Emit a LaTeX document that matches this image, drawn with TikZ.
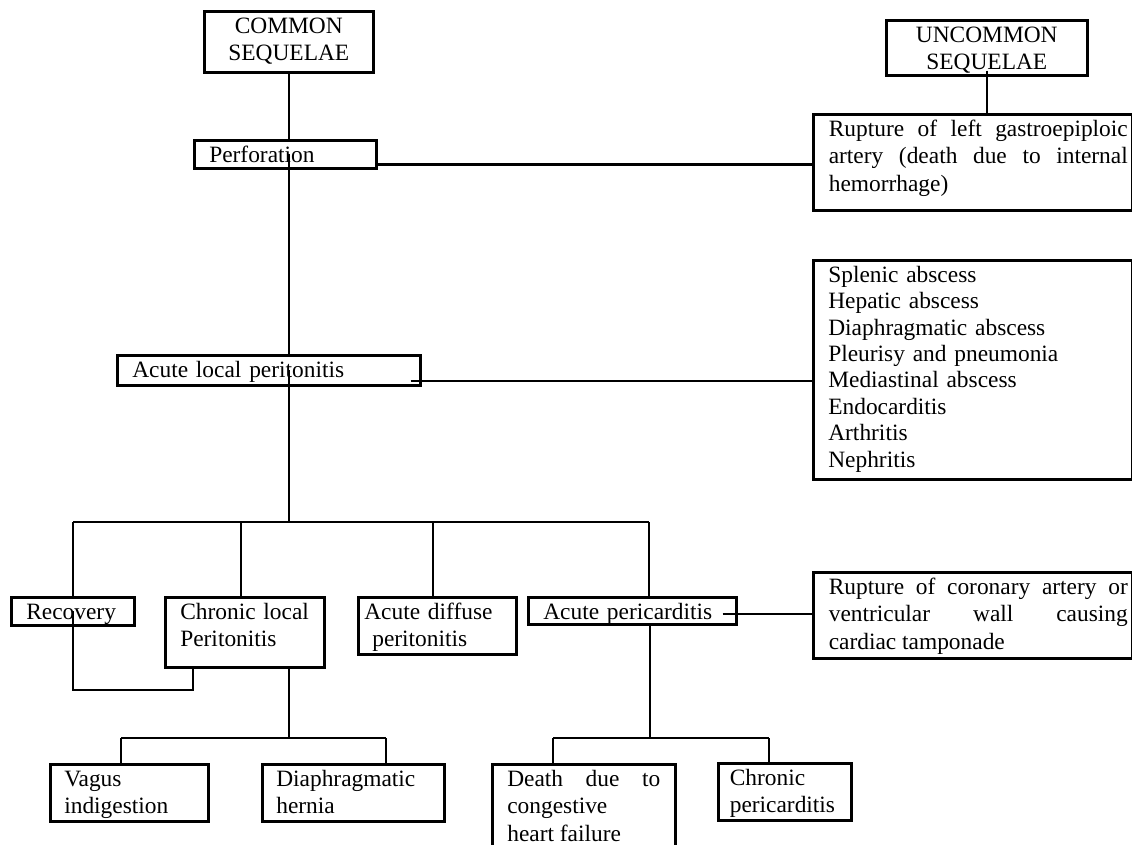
\documentclass[tikz,border=0pt]{standalone}
\usepackage{fontspec}
\setmainfont{Liberation Serif}
\tikzset{
  box/.style={draw, line width=2.6pt, anchor=north west, inner ysep=5pt,
    text height=17pt, align=left},
  link/.style={line width=2.2pt},
}
\begin{document}
\begin{tikzpicture}[x=1pt, y=-1pt, font=\fontsize{23.4}{27.5}\selectfont]
\useasboundingbox (0,0) rectangle (1132,845);

% top of the chart
\node[box, align=center, inner xsep=5pt, text width=159pt, text depth=34pt] (common) at (203,10) {COMMON\\SEQUELAE};
\node[box, align=center, inner xsep=5pt, text width=191pt, text depth=28pt] (uncommon) at (885,19) {UNCOMMON\\SEQUELAE};
\node[box, inner xsep=15pt, text width=152pt, text depth=1pt] (perf) at (193,139) {Perforation};
\node[box, align=justify, inner xsep=4.5pt, text width=310pt, text depth=69pt] (gastro) at (812,113)
  {\hspace*{11pt}Rupture of left gastroepiploic\linebreak\hspace*{11pt}artery (death due to internal\linebreak\hspace*{11pt}hemorrhage)};
\node[box, inner xsep=15pt, text width=273pt, text depth=3pt] (acute) at (116,354) {Acute local peritonitis};
\node[box, inner xsep=15pt, text width=289pt, text depth=192pt, font=\fontsize{23.4}{26.4}\selectfont] (splenic) at (812,259)
  {Splenic abscess\\Hepatic abscess\\Diaphragmatic abscess\\Pleurisy and pneumonia\\Mediastinal abscess\\Endocarditis\\Arthritis\\Nephritis};

% second level
\node[box, inner xsep=15pt, text width=93pt, text depth=1pt] (rec) at (10,596) {Recovery};
\node[box, inner xsep=15pt, text width=129pt, text depth=43pt] (chronic) at (164,596) {Chronic local\\Peritonitis};
\node[box, inner xsep=6pt, text width=146pt, text depth=30pt] (diffuse) at (357,596) {Acute diffuse\\\hspace*{8pt}peritonitis};
\node[box, inner xsep=15pt, text width=178pt, text depth=0pt] (peri) at (527,596) {Acute pericarditis};
\node[box, align=justify, inner xsep=4.5pt, text width=310pt, text depth=59pt] (coronary) at (812,571)
  {\hspace*{11pt}Rupture of coronary artery or\linebreak\hspace*{11pt}ventricular wall causing\linebreak\hspace*{11pt}cardiac tamponade};

% bottom level
\node[box, inner xsep=14pt, text width=130pt, text depth=30pt] (vagus) at (49,763) {Vagus\\indigestion};
\node[box, inner xsep=14pt, text width=154pt, text depth=30pt] (hernia) at (261,763) {Diaphragmatic\\hernia};
\node[box, align=justify, inner xsep=15pt, text width=153pt, text depth=73pt] (death) at (491,763) {Death due to\linebreak congestive\newline heart failure};
\node[box, inner xsep=11.5pt, text width=110pt, text depth=30pt] (chronicperi) at (717,762) {Chronic\\pericarditis};

% main spine
\coordinate (hub) at (289,522);
\draw[link] (common.south -| hub) -- (perf.north -| hub);
\draw[link] (perf.center -| hub) -- (acute.north -| hub);
\draw[link] (acute.center -| hub) -- (hub);

% side branches
\draw[link] (uncommon.south) ++(0,-6) -- (uncommon.south |- gastro.north);
\draw[link] (perf.south east) ++(0,-5) coordinate (pg) -- (pg -| gastro.west);
\draw[link] (acute.south east) ++(-11,-6) coordinate (as) -- (as -| splenic.west);
\draw[link] (peri.south east) ++(-15,-12) coordinate (pc) -- (pc -| coronary.west);

% four outcomes
\coordinate (b1) at (73,522);
\coordinate (b2) at (241,522);
\coordinate (b3) at (433,522);
\coordinate (b4) at (649,522);
\draw[link] (b1) -- (b4);
\foreach \b/\n in {b1/rec, b2/chronic, b3/diffuse, b4/peri}
  \draw[link] (\b) -- (\b |- \n.north);
\coordinate (loop) at (193,690);
\draw[link] (b1 |- rec.center) |- (loop) -- (loop |- chronic.south);

% chronic local peritonitis
\coordinate (c0) at (289,738);
\coordinate (c1) at (121,738);
\coordinate (c2) at (386,738);
\draw[link] (c0 |- chronic.south) -- (c0);
\draw[link] (c1) -- (c2);
\draw[link] (c1) -- (c1 |- vagus.north);
\draw[link] (c2) -- (c2 |- hernia.north);

% acute pericarditis
\coordinate (p0) at (650,738);
\coordinate (p1) at (553,738);
\coordinate (p2) at (769,738);
\draw[link] (p0 |- peri.south) -- (p0);
\draw[link] (p1) -- (p2);
\draw[link] (p1) -- (p1 |- death.north);
\draw[link] (p2) -- (p2 |- chronicperi.north);
\end{tikzpicture}
\end{document}
